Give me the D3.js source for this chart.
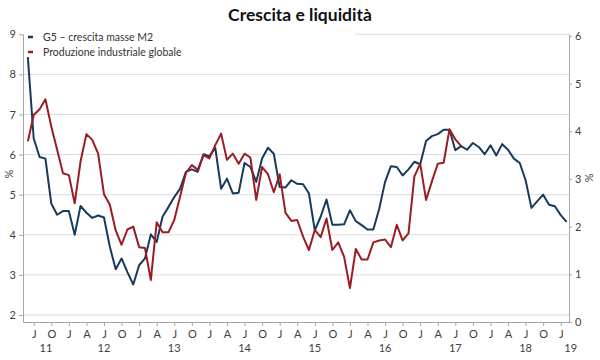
<!DOCTYPE html>
<html><head><meta charset="utf-8">
<script src="https://cdn.jsdelivr.net/npm/d3@7"></script>
<style>
body{margin:0;background:#fff;}
svg{display:block;font-family:Lato,"Open Sans",sans-serif;}
</style>
</head><body>
<svg id="chart" width="600" height="360"></svg>
<script>
// Monthly data, first point = Jun 2011 (month index -1, where 0 = Jul 2011)
const firstMonthIndex = -1;
const m2Growth = [8.43, 6.40, 5.94, 5.90, 4.78, 4.50, 4.59, 4.59, 4.00, 4.72, 4.55, 4.42, 4.48, 4.43, 3.70, 3.14, 3.41, 3.07, 2.76, 3.24, 3.41, 4.01, 3.82, 4.45, 4.69, 4.94, 5.15, 5.57, 5.63, 5.57, 6.01, 5.96, 6.17, 5.15, 5.40, 5.03, 5.05, 5.79, 5.69, 5.32, 5.90, 6.17, 6.02, 5.19, 5.18, 5.36, 5.27, 5.26, 5.03, 4.11, 4.45, 4.88, 4.25, 4.25, 4.26, 4.61, 4.34, 4.24, 4.13, 4.13, 4.65, 5.32, 5.71, 5.69, 5.48, 5.63, 5.82, 5.76, 6.34, 6.46, 6.51, 6.62, 6.62, 6.11, 6.21, 6.12, 6.29, 6.19, 6.01, 6.23, 5.98, 6.26, 6.12, 5.90, 5.79, 5.36, 4.67, 4.84, 5.00, 4.75, 4.71, 4.49, 4.32];
const industrialProduction = [3.79, 4.34, 4.46, 4.67, 4.10, 3.61, 3.12, 3.08, 2.49, 3.37, 3.94, 3.82, 3.53, 2.68, 2.46, 1.92, 1.62, 1.94, 2.00, 1.57, 1.55, 0.88, 2.09, 1.88, 1.88, 2.14, 2.63, 3.13, 3.29, 3.19, 3.50, 3.43, 3.71, 3.95, 3.40, 3.53, 3.32, 3.53, 3.45, 2.56, 3.25, 3.10, 2.72, 3.10, 2.29, 2.12, 2.14, 1.79, 1.51, 1.93, 1.78, 2.17, 1.51, 1.67, 1.37, 0.71, 1.53, 1.31, 1.31, 1.67, 1.71, 1.73, 1.57, 2.04, 1.71, 1.86, 3.05, 3.32, 2.56, 2.95, 3.32, 3.34, 4.04, 3.83, 3.69];
const quarterLabels = ["J","O",
  "J","A","J","O", "J","A","J","O", "J","A","J","O", "J","A","J","O",
  "J","A","J","O", "J","A","J","O", "J","A","J","O", "J"];
const yearLabels = ["11","12","13","14","15","16","17","18","19"];
const leftTicks = [2,3,4,5,6,7,8,9];
const rightTicks = [0,1,2,3,4,5,6];
const seriesNames = ["G5 \u2013 crescita masse M2","Produzione industriale globale"];
const titleText = "Crescita e liquidit\u00e0";

const colors = {blue:"#173a5c", red:"#9a1c24", grid:"#dcdcdc", axis:"#a6a6a6", text:"#404040"};
const P = {l:23, r:569, t:34, b:322};

const svg = d3.select("#chart");
const x = d3.scaleLinear().domain([-1.83, 91.41]).range([P.l, P.r]);
const yL = d3.scaleLinear().domain([1.825, 9.007]).range([P.b, P.t]);
const yR = d3.scaleLinear().domain([0, 6.04]).range([P.b, P.t]);

// title
svg.append("text").attr("x", 300).attr("y", 21).attr("text-anchor","middle")
  .attr("font-size", 17.5).attr("font-weight","bold").attr("fill","#111").text(titleText);

// gridlines
svg.append("g").selectAll("line").data(leftTicks).join("line")
  .attr("x1", P.l).attr("x2", P.r)
  .attr("y1", d => yL(d)).attr("y2", d => yL(d))
  .attr("stroke", colors.grid).attr("stroke-width", 1);

// lines
const blueData = m2Growth.map((v,i) => ({m: firstMonthIndex + i, v}));
const redData = industrialProduction.map((v,i) => ({m: firstMonthIndex + i, v}));
svg.append("path").datum(blueData)
  .attr("fill","none").attr("stroke", colors.blue).attr("stroke-width", 2).attr("stroke-linejoin","round")
  .attr("d", d3.line().x(d => x(d.m)).y(d => yL(d.v)));
svg.append("path").datum(redData)
  .attr("fill","none").attr("stroke", colors.red).attr("stroke-width", 2).attr("stroke-linejoin","round")
  .attr("d", d3.line().x(d => x(d.m)).y(d => yR(d.v)));

// legend
svg.append("rect").attr("x", 24).attr("y", 26).attr("width", 331).attr("height", 29).attr("fill","#fff");
const lg = svg.append("g").attr("font-size", 10.5).attr("fill", colors.text);
[[colors.blue, 37],[colors.red, 52]].forEach(([c,yy],i) => {
  lg.append("line").attr("x1",28).attr("x2",33).attr("y1",yy).attr("y2",yy)
    .attr("stroke",c).attr("stroke-width",2.5);
  lg.append("text").attr("x",43).attr("y",yy).attr("dy","0.35em").attr("fill","#333").text(seriesNames[i]);
});

// axes
function styleAxis(g){
  g.selectAll(".domain").attr("stroke", colors.axis);
  g.selectAll(".tick line").attr("stroke", colors.axis);
  g.selectAll(".tick text").attr("fill", colors.text).attr("font-size", 11).attr("font-family","Lato, 'Open Sans', sans-serif");
}
svg.append("g").attr("transform", `translate(${P.l},0)`)
  .call(d3.axisLeft(yL).tickValues(leftTicks).tickSize(4).tickSizeOuter(0).tickPadding(3).tickFormat(d3.format("d")))
  .call(styleAxis);
svg.append("g").attr("transform", `translate(${P.r},0)`)
  .call(d3.axisRight(yR).tickValues(rightTicks).tickSize(3).tickSizeOuter(0).tickPadding(3).tickFormat(d3.format("d")))
  .call(styleAxis);
const qTicks = quarterLabels.map((_,i) => i*3);
svg.append("g").attr("transform", `translate(0,${P.b})`)
  .call(d3.axisBottom(x).tickValues(qTicks).tickSize(4).tickSizeOuter(0).tickPadding(4).tickFormat((d,i) => quarterLabels[i]))
  .call(styleAxis);

// year labels: July of full years, centre of visible part for partial years
const dom = x.domain();
yearLabels.forEach((lab, k) => {
  const jan = -6 + 12*k;           // Jan of year (2011 -> -6)
  const a = Math.max(jan, dom[0]), b = Math.min(jan + 11, dom[1]);
  const pos = (a === jan && b === jan + 11) ? jan + 6 : (a + b) / 2 + ((k===0)?0.5:1.0);
  svg.append("text").attr("x", x(pos)).attr("y", 348).attr("dy","0.35em")
    .attr("text-anchor","middle").attr("font-size", 11).attr("fill", colors.text).text(lab);
});

// % labels
svg.append("text").attr("transform","translate(9,174) rotate(-90)").attr("text-anchor","middle")
  .attr("dy","0.35em").attr("font-size",11).attr("fill",colors.text).text("%");
svg.append("text").attr("transform","translate(589,178) rotate(90)").attr("text-anchor","middle")
  .attr("dy","0.35em").attr("font-size",11).attr("fill",colors.text).text("%");
</script>
</body></html>
